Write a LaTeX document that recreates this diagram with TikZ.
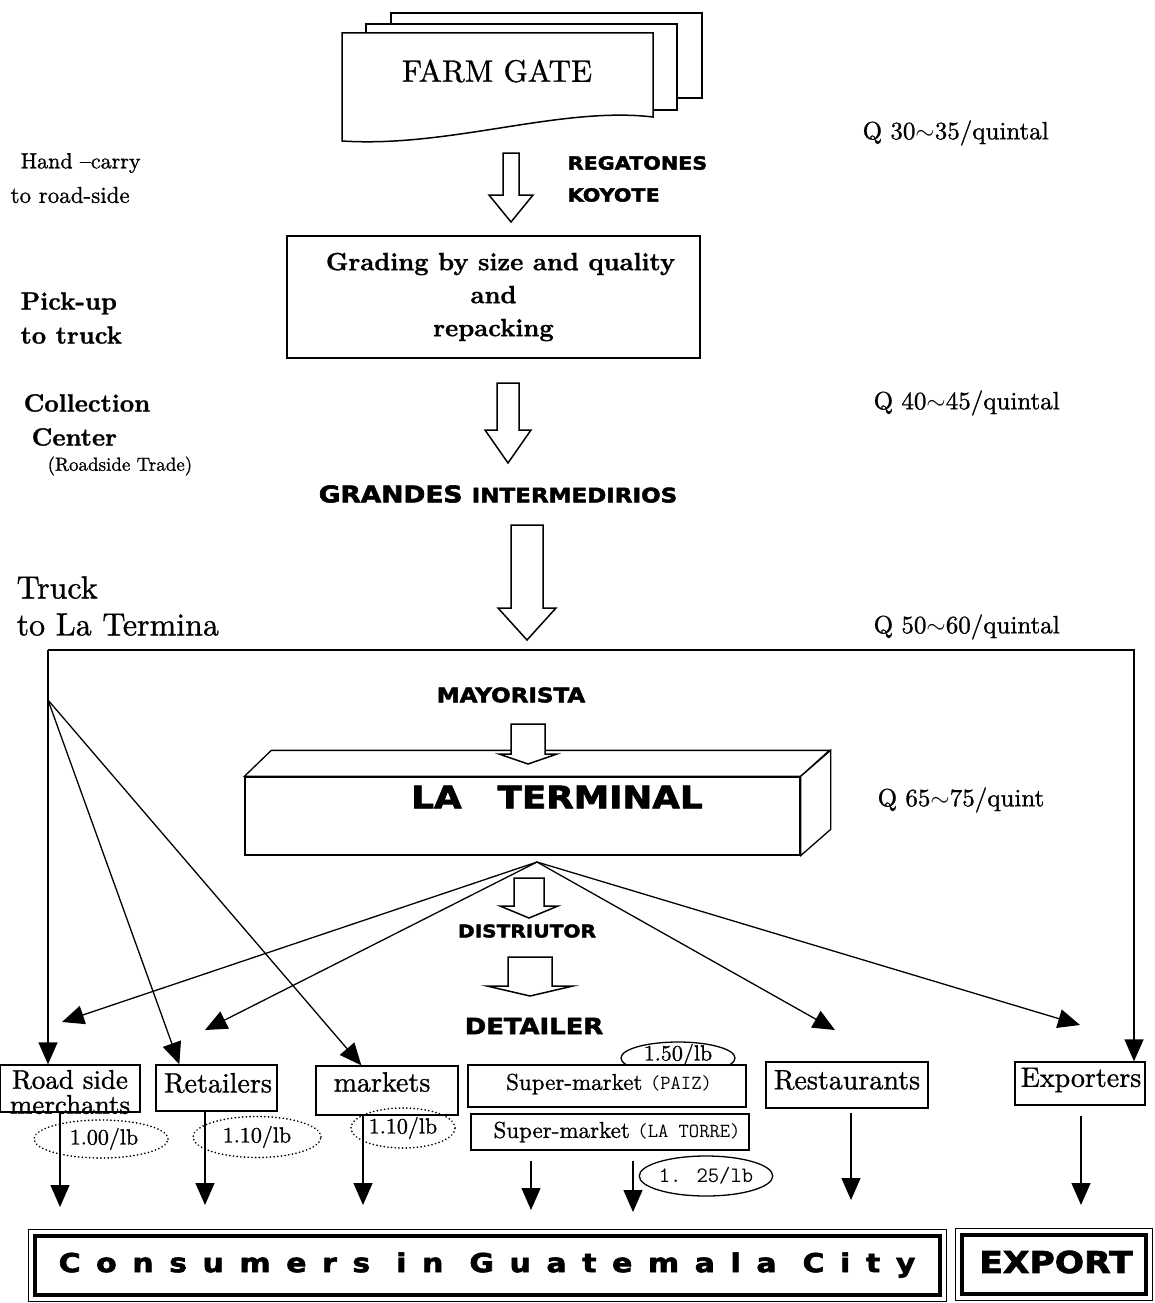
\documentclass[tikz,border=0pt]{standalone}
\usepackage{fontspec}
\usetikzlibrary{arrows.meta,positioning,shapes.geometric}
\setmainfont{lmroman10-regular.otf}[BoldFont=lmroman10-bold.otf, FakeBold=1]
\newfontfamily\heavy[FakeStretch=1.15, FakeBold=2.5]{DejaVu Sans}
\newfontfamily\heavywide[FakeStretch=1.15, FakeBold=2.5, LetterSpace=60]{DejaVu Sans}

% hollow block arrow: x, top, head start, tip, shaft half width, head half width
\newcommand{\fatarrow}[6]{%
  \draw[fill=white, line width=1.5pt]
    ({#1-#5},#2) -- ({#1+#5},#2) -- ({#1+#5},#3) -- ({#1+#6},#3)
    -- (#1,#4) -- ({#1-#6},#3) -- ({#1-#5},#3) -- cycle;}

\begin{document}
\begin{tikzpicture}[x=1pt, y=-1pt, line width=1.3pt,
    every node/.style={inner sep=0pt},
    side/.style={font=\bfseries\fontsize{25}{34}\selectfont, align=left, anchor=west},
    price/.style={font=\fontsize{25}{30}\selectfont, anchor=west},
    actor/.style={font=\heavy\bfseries\fontsize{18}{32}\selectfont},
    outlet/.style={draw, fill=white, line width=1.3pt},
    outtext/.style={font=\fontsize{28}{23}\selectfont, align=center},
    small/.style={font=\fontsize{22}{26}\selectfont},
    ring/.style={draw, ellipse, line width=1.3pt, fill=white},
    dotring/.style={draw, ellipse, line width=1.8pt, dash pattern=on 0.1pt off 3.6pt, line cap=round},
    arr/.style={-{Triangle[length=22pt, width=19pt]}}]

  \useasboundingbox (0,0) rectangle (1155,1303);

  % farm gate sheets
  \draw[fill=white] (391,13) rectangle (702,98);
  \draw[fill=white] (366,24) rectangle (677,110);
  \draw[fill=white, line width=1.5pt] (342,33) -- (653,33) -- (653,117)
    .. controls (560,106) and (450,148) .. (342,141) -- cycle;
  \node[font=\fontsize{31}{36}\selectfont] (farm) at (497,71) {FARM GATE};

  % left side notes
  \node[font=\fontsize{22}{26}\selectfont, anchor=west] (hand) at (20,163) {Hand --carry};
  \node[font=\fontsize{23}{26}\selectfont, anchor=west] (toroad) at (10,195) {to road-side};
  \node[side] (pick) at (20,318) {Pick-up\\to truck};
  \node[side] (coll) at (23,420) {Collection\\\hspace*{8pt}Center};
  \node[font=\fontsize{19}{22}\selectfont, anchor=west] (trade) at (47,466) {(Roadside Trade)};
  \node[font=\fontsize{32}{37}\selectfont, align=left, anchor=west] (truck) at (16,606) {Truck\\to La Termina};

  % prices per quintal
  \node[price] (q1) at (862,133) {Q 30$\sim$35/quintal};
  \node[price] (q2) at (873,403) {Q 40$\sim$45/quintal};
  \node[price] (q3) at (873,627) {Q 50$\sim$60/quintal};
  \node[price] (q4) at (877,800) {Q 65$\sim$75/quint};

  % farm gate to grading
  \fatarrow{511}{153}{195}{222}{8}{22}
  \node[actor, align=left, anchor=west] (rega) at (567,179) {REGATONES\\KOYOTE};

  \node[draw, minimum width=413, minimum height=122, align=center,
    font=\bfseries\fontsize{25}{33}\selectfont] (grade) at (493.5,297)
    {\hspace*{14pt}Grading by size and quality\\and\\repacking};

  \fatarrow{508}{383}{430}{463}{11}{23}
  \node (grandes) at (498,494) {\heavy\bfseries\fontsize{23}{28}\selectfont GRANDES
    \fontsize{20}{28}\selectfont INTERMEDIRIOS};

  \fatarrow{527}{525}{608}{640}{16}{29}

  % frame to the outlets
  \coordinate (tl) at (48,650);
  \coordinate (tr) at (1134,650);
  \coordinate (split) at (48,700);

  % la terminal
  \node[actor, font=\heavy\bfseries\fontsize{20}{24}\selectfont] (mayor) at (511,695) {MAYORISTA};
  \node[draw, fill=white, minimum width=555, minimum height=78] (term) at (522.5,816) {};
  \draw[fill=white] (term.north west) -- ++(27,-26) -- ++(558,0) -- (term.north east) -- cycle;
  \draw[fill=white] (term.north east) -- ++(30,-26) -- ++(0,79) -- (term.south east) -- cycle;
  \node[font=\heavy\bfseries\fontsize{31}{36}\selectfont] (termtxt) at (557,797) {LA\hspace{36pt}TERMINAL};
  \fatarrow{528}{724}{754}{764}{17}{29}
  \coordinate (apex) at (537,862);

  \fatarrow{529}{878}{906}{918}{15}{29}
  \node[font=\heavy\bfseries\fontsize{17.5}{20}\selectfont] (distr) at (527,931) {DISTRIUTOR};
  \fatarrow{530}{957}{986}{996}{22}{43}
  \node[font=\heavy\bfseries\fontsize{22.5}{26}\selectfont] (detail) at (534,1026) {DETAILER};

  % outlets
  \node[outlet, minimum width=140, minimum height=47] (road) at (70,1088.5) {};
  \node[outlet, minimum width=121, minimum height=46] (ret) at (216.5,1088) {};
  \node[outlet, minimum width=142, minimum height=49] (mkt) at (387,1090.5) {};
  \node[ring, minimum width=114, minimum height=32] (r150) at (678,1058) {};
  \node[outlet, minimum width=278, minimum height=42] (paiz) at (607,1086) {};
  \node[outlet, minimum width=278, minimum height=36] (torre) at (610,1132) {};
  \node[outlet, minimum width=162, minimum height=46] (rest) at (847,1085) {};
  \node[outlet, minimum width=130, minimum height=43] (expo) at (1080,1083.5) {};

  \node[outtext, font=\fontsize{27}{25}\selectfont] (roadtxt) at (70,1092) {Road side\\merchants};
  \node[outtext] (rettxt) at (218,1083) {Retailers};
  \node[outtext] (mkttxt) at (382,1082) {markets};
  \node[small] (p150) at (678,1055) {1.50/lb};
  \node[font=\fontsize{23}{26}\selectfont] (paiztxt) at (609,1084)
    {Super-market {\ttfamily\fontsize{20}{24}\selectfont(PAIZ)}};
  \node[font=\fontsize{23}{26}\selectfont] (torretxt) at (617,1132)
    {Super-market {\ttfamily\fontsize{20}{24}\selectfont(LA TORRE)}};
  \node[outtext] (resttxt) at (847,1080) {Restaurants};
  \node[outtext] (expotxt) at (1081,1080) {Exporters};

  % prices per pound
  \node[dotring, small, minimum width=134, minimum height=38] (p1) at (101,1139) {\hspace*{6pt}1.00/lb};
  \node[dotring, small, minimum width=128, minimum height=41] (p2) at (257,1137) {1.10/lb};
  \node[dotring, small, minimum width=104, minimum height=40] (p3) at (403,1128) {1.10/lb};
  \node[ring, minimum width=112, minimum height=40,
    font=\ttfamily\fontsize{22}{26}\selectfont] (p125) at (706,1176) {1. 25/lb};

  % flows from the truck
  \draw[arr] (tl) -- (tr) -- (tr |- expo.north);
  \draw[arr] (tl) -- (tl |- road.north);
  \draw[arr] (split) -- ([xshift=24pt]ret.north west);
  \draw[arr] (split) -- ([xshift=46pt]mkt.north west);

  % flows from la terminal
  \coordinate (a1) at (62,1022);
  \coordinate (a2) at (205,1030);
  \coordinate (a3) at (835,1030);
  \coordinate (a4) at (1080,1025);
  \foreach \t in {a1,a2,a3,a4}
    \draw[arr] (apex) -- (\t);

  % to consumers
  \coordinate (d1) at (60,1207);
  \coordinate (d2) at (205,1205);
  \coordinate (d3) at (363,1205);
  \coordinate (d4) at (531,1210);
  \coordinate (d5) at (633,1212);
  \coordinate (d6) at (851,1200);
  \coordinate (d7) at (1081,1205);
  \draw[arr] (d1 |- road.south) -- (d1);
  \draw[arr] (d2 |- ret.south) -- (d2);
  \draw[arr] (d3 |- mkt.south) -- (d3);
  \draw[arr] ([yshift=-10pt]d4 |- torre.south) -- (d4);
  \draw[arr] ([yshift=-10pt]d5 |- torre.south) -- (d5);
  \draw[arr] ([yshift=-4pt]d6 |- rest.south) -- (d6);
  \draw[arr] ([yshift=-10pt]d7 |- expo.south) -- (d7);

  % final markets
  \node[draw, line width=1pt, minimum width=918, minimum height=72] (cons) at (487,1265) {};
  \draw[line width=4pt] ([shift={(7,7)}]cons.north west) rectangle ([shift={(-7,-7)}]cons.south east);
  \node[font=\heavywide\bfseries\fontsize{26}{30}\selectfont] (constxt) at (cons.center)
    {Consumers in Guatemala City};
  \node[draw, line width=1pt, minimum width=197, minimum height=72] (exp) at (1053.5,1264) {};
  \draw[line width=4pt] ([shift={(7,7)}]exp.north west) rectangle ([shift={(-7,-7)}]exp.south east);
  \node[font=\heavy\bfseries\fontsize{30}{34}\selectfont] (exptxt) at (1056,1262) {EXPORT};
\end{tikzpicture}
\end{document}
